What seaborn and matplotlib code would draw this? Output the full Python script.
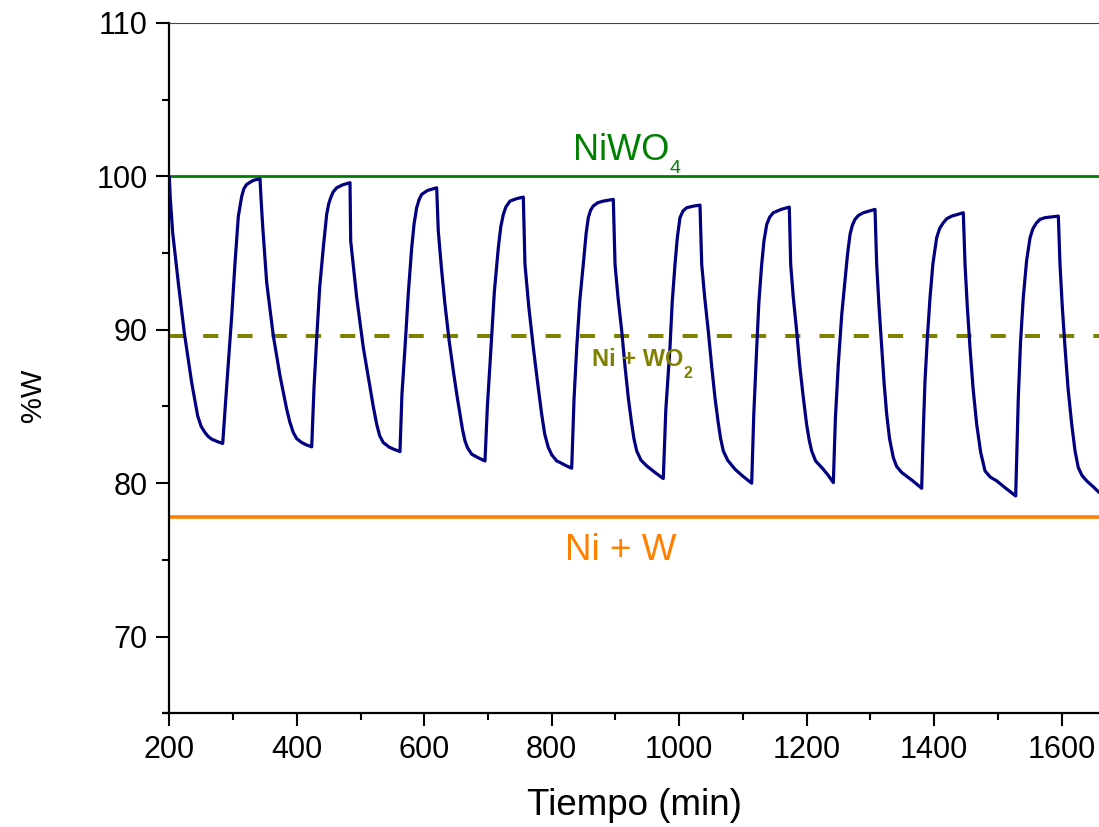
import matplotlib
matplotlib.use("Agg")
import matplotlib.pyplot as plt
from matplotlib.ticker import MultipleLocator
import seaborn as sns

# Thermogravimetric redox cycling: sample weight (%) versus time (min)
tiempo = [
    200.0, 201.5, 205.3, 214.1, 223.5, 235.1, 244.5, 250.0, 256.0, 261.0, 266.5, 275.0, 283.8,
    290.5, 297.9, 303.0, 308.3, 313.6, 317.0, 321.4, 331.8, 342.3,
    344.0, 346.5, 352.8, 363.2, 373.7, 384.2, 389.0, 394.5, 400.0, 407.7, 415.0, 423.4,
    427.0, 431.3, 436.0, 441.6, 446.9, 450.0, 453.2, 457.0, 462.6, 472.0, 483.5,
    484.6, 494.0, 504.4, 514.9, 520.0, 525.4, 530.0, 535.7, 545.0, 553.0, 561.9,
    565.0, 569.8, 575.0, 580.3, 584.0, 588.1, 592.0, 596.0, 605.0, 619.5,
    622.0, 627.0, 632.5, 639.0, 645.6, 651.0, 656.1, 660.0, 663.9, 668.0, 674.4, 685.0, 695.3,
    699.0, 703.1, 710.0, 716.2, 720.0, 724.0, 728.0, 734.5, 745.0, 755.4,
    758.0, 764.0, 771.1, 778.0, 784.2, 789.0, 794.6, 800.0, 807.8, 813.0, 822.0, 831.3,
    835.0, 839.2, 844.0, 849.5, 854.0, 857.4, 861.0, 865.2, 872.0, 880.9, 896.6,
    899.3, 904.0, 909.8, 915.0, 920.1, 925.0, 929.0, 933.3, 940.0, 949.0, 962.0, 975.0,
    979.0, 985.5, 989.0, 993.4, 997.0, 1001.2, 1006.0, 1011.8, 1022.0, 1032.6,
    1035.3, 1040.0, 1045.6, 1051.0, 1056.1, 1061.0, 1065.0, 1069.2, 1076.0, 1087.5, 1100.0, 1113.7,
    1117.0, 1121.6, 1125.0, 1129.4, 1133.0, 1137.3, 1142.0, 1147.6, 1160.0, 1172.7,
    1174.9, 1179.0, 1184.3, 1189.0, 1194.7, 1200.0, 1204.0, 1207.8, 1214.0, 1226.0, 1234.0, 1241.8,
    1245.0, 1249.6, 1255.0, 1260.1, 1264.0, 1268.0, 1271.5, 1275.8, 1281.0, 1288.8, 1307.2,
    1309.8, 1313.5, 1317.7, 1321.5, 1325.5, 1330.0, 1335.9, 1341.0, 1349.0, 1365.0, 1380.4,
    1383.0, 1385.6, 1389.5, 1393.5, 1398.0, 1403.9, 1408.5, 1414.3, 1420.0, 1427.5, 1445.7,
    1448.4, 1452.0, 1456.2, 1461.0, 1466.7, 1473.0, 1479.8, 1488.0, 1498.1, 1513.0, 1527.9,
    1530.0, 1532.0, 1535.5, 1539.8, 1545.0, 1550.4, 1555.0, 1560.8, 1566.0, 1573.9, 1594.8,
    1597.4, 1601.0, 1605.3, 1610.0, 1615.8, 1621.0, 1626.1, 1632.0, 1639.3, 1650.0, 1658.6,
]
peso = [
    100.0, 98.6, 96.33, 93.07, 89.82, 86.56, 84.39, 83.7, 83.3, 83.05, 82.87, 82.72, 82.59,
    86.6, 90.9, 94.3, 97.4, 98.7, 99.2, 99.48, 99.74, 99.85,
    98.5, 96.76, 93.07, 89.6, 87.0, 84.82, 84.0, 83.3, 82.9, 82.65, 82.5, 82.37,
    86.2, 89.49, 92.8, 95.35, 97.52, 98.2, 98.61, 98.98, 99.26, 99.45, 99.59,
    95.79, 92.1, 88.84, 86.23, 85.0, 83.84, 83.1, 82.65, 82.35, 82.2, 82.06,
    85.8, 88.84, 92.4, 95.35, 96.9, 97.96, 98.5, 98.83, 99.08, 99.26,
    96.44, 94.0, 91.66, 89.3, 87.32, 85.8, 84.5, 83.5, 82.76, 82.3, 81.89, 81.65, 81.45,
    85.0, 87.75, 92.5, 95.35, 96.7, 97.52, 98.0, 98.39, 98.55, 98.65,
    94.27, 91.5, 88.84, 86.5, 84.5, 83.2, 82.33, 81.85, 81.45, 81.35, 81.15, 80.98,
    85.5, 88.84, 91.9, 94.27, 96.3, 97.31, 97.8, 98.07, 98.28, 98.39, 98.5,
    94.27, 92.1, 89.92, 87.6, 85.58, 84.0, 82.9, 82.1, 81.5, 81.13, 80.7, 80.3,
    84.8, 88.84, 91.8, 94.27, 96.0, 97.31, 97.75, 97.96, 98.06, 98.13,
    94.27, 92.1, 89.92, 87.6, 85.58, 84.0, 82.9, 82.1, 81.5, 80.91, 80.45, 80.0,
    84.5, 88.84, 91.8, 94.27, 95.8, 96.87, 97.35, 97.63, 97.85, 98.0,
    94.27, 92.1, 89.92, 87.7, 85.58, 83.8, 82.8, 82.1, 81.45, 80.91, 80.5, 80.04,
    84.2, 87.75, 91.0, 93.18, 94.9, 96.22, 96.8, 97.2, 97.45, 97.63, 97.85,
    94.27, 91.5, 88.84, 86.5, 84.5, 82.9, 81.67, 81.1, 80.7, 80.2, 79.67,
    83.5, 86.66, 89.6, 92.1, 94.3, 96.0, 96.6, 96.98, 97.25, 97.41, 97.63,
    94.27, 91.5, 88.84, 86.2, 83.84, 82.0, 80.8, 80.4, 80.15, 79.65, 79.17,
    82.5, 85.58, 89.2, 92.1, 94.5, 96.0, 96.6, 96.98, 97.2, 97.31, 97.41,
    94.27, 91.5, 88.84, 86.2, 83.84, 82.1, 81.02, 80.5, 80.15, 79.75, 79.4,
]

# Theoretical weight levels of the phases
fases = ["NiWO", "Ni + WO", "Ni + W"]
subindices = ["4", "2", ""]
niveles = [100.0, 89.6, 77.8]

x_ticks = [200, 400, 600, 800, 1000, 1200, 1400, 1600]
y_ticks = [70, 80, 90, 100, 110]

sns.set_theme(style="ticks")
plt.rcParams["font.family"] = ["Liberation Sans", "DejaVu Sans"]

fig = plt.figure(figsize=(10.99, 8.27), dpi=100)
ax = fig.add_axes([0.15405, 0.13749, 0.84595, 0.83470])

c_niwo4, c_wo2, c_w = "#008000", "#808000", "#FF8000"

ax.axhline(niveles[0], color=c_niwo4, lw=2.0, zorder=2)
ax.axhline(niveles[1], color=c_wo2, lw=2.9, dashes=(3.75, 4.75), zorder=2)
ax.axhline(niveles[2], color=c_w, lw=2.6, zorder=2)

sns.lineplot(x=tiempo, y=peso, ax=ax, color="#000080", lw=2.3,
             estimator=None, sort=False, zorder=3)

# Phase labels with hand-placed subscripts
t1 = ax.text(832.9, 101.1, fases[0], color=c_niwo4, fontsize=26,
             ha="left", va="baseline")
ax.annotate(subindices[0], xy=(1, 0), xycoords=t1, xytext=(0.5, -7.0),
            textcoords="offset points", color=c_niwo4, fontsize=14,
            ha="left", va="bottom")
t2 = ax.text(862.7, 87.64, fases[1], color=c_wo2, fontsize=17,
             fontweight="bold", ha="left", va="baseline")
ax.annotate(subindices[1], xy=(1, 0), xycoords=t2, xytext=(0.5, -7.3),
            textcoords="offset points", color=c_wo2, fontsize=11.5,
            fontweight="bold", ha="left", va="bottom")
ax.text(820.8, 75.0, fases[2], color=c_w, fontsize=26.5,
        ha="left", va="baseline")

ax.set_xlim(200, 1658.6)
ax.set_ylim(65, 110)
ax.set_xticks(x_ticks)
ax.set_yticks(y_ticks)
ax.xaxis.set_minor_locator(MultipleLocator(100))
ax.yaxis.set_minor_locator(MultipleLocator(5))

ax.tick_params(which="major", direction="out", length=9.4, width=1.5,
               labelsize=22, pad=6, color="black", labelcolor="black")
ax.tick_params(which="minor", direction="out", length=4.8, width=1.5,
               color="black")
ax.tick_params(top=False, right=False, which="both")

for side in ("left", "bottom"):
    ax.spines[side].set_linewidth(1.6)
    ax.spines[side].set_color("black")
ax.spines["right"].set_visible(False)
ax.spines["top"].set_linewidth(0.8)
ax.spines["top"].set_color("#444444")

# short stub of the x axis line to the left of the y axis
ax.plot([-0.008, 0], [0, 0], transform=ax.transAxes, color="black",
        lw=1.6, clip_on=False, solid_capstyle="butt")

ax.set_xlabel("Tiempo (min)", fontsize=26.5, color="black")
ax.set_ylabel("%W", fontsize=21, color="black")
ax.xaxis.set_label_coords(0.5, -0.108)
ax.yaxis.set_label_coords(-0.132, 0.46)
ax.grid(False)
ax.set_facecolor("white")
fig.patch.set_facecolor("white")

fig.savefig("out.png", dpi=100)
